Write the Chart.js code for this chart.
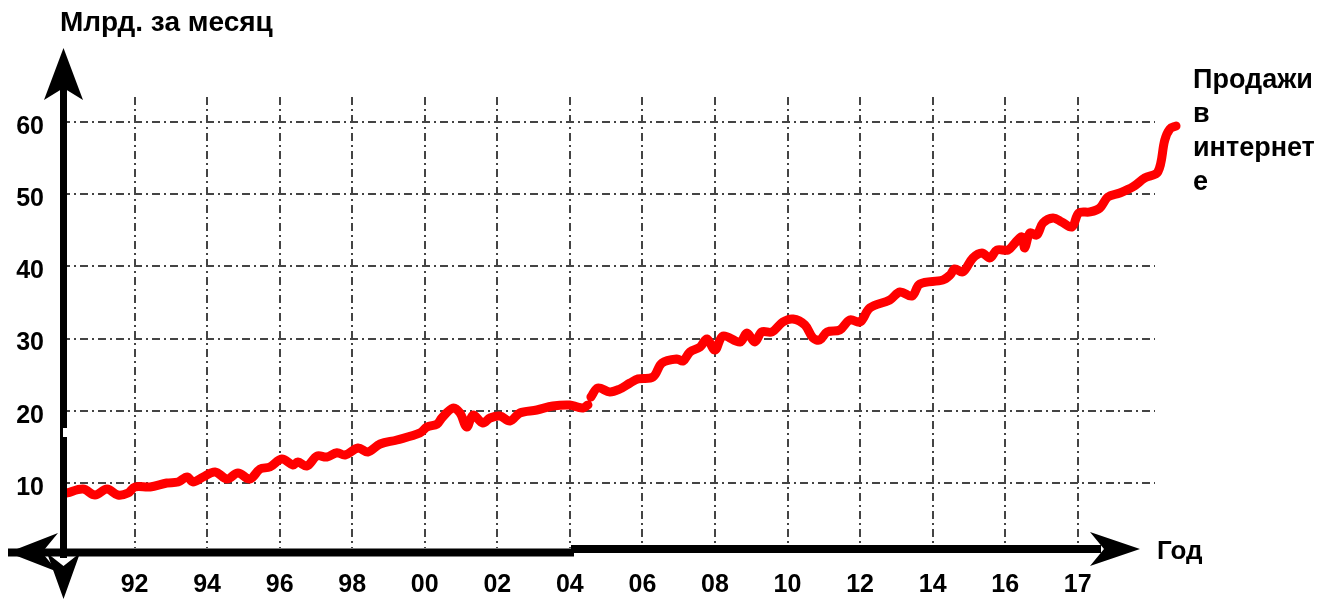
<!DOCTYPE html>
<html>
<head>
<meta charset="utf-8">
<title>Продажи в интернете</title>
<script src="https://cdn.jsdelivr.net/npm/chart.js@4.4.1/dist/chart.umd.min.js"></script>
<style>
  html, body { margin: 0; padding: 0; background: #fff; }
  canvas { display: block; }
</style>
</head>
<body>
<canvas id="chart" width="1322" height="599"></canvas>
<script>
// monthly online sales, bln
const years = [1990.14, 1990.58, 1990.91, 1991.24, 1991.54, 1991.82, 1992.01, 1992.43, 1992.89, 1993.20,
  1993.45, 1993.61, 1993.89, 1994.22, 1994.55, 1994.85, 1995.18, 1995.46, 1995.73, 1996.06,
  1996.37, 1996.50, 1996.75, 1997.03, 1997.30, 1997.58, 1997.80, 1998.16, 1998.43, 1998.77,
  1999.23, 1999.87, 2000.06, 2000.34, 2000.47, 2000.78, 2000.97, 2001.16, 2001.33, 2001.60,
  2001.80, 2002.07, 2002.35, 2002.62, 2003.09, 2003.53, 2004.00, 2004.20, 2004.36, 2004.50,
  2004.54, 2004.58, 2004.77, 2005.10, 2005.38, 2005.66, 2005.88, 2006.29, 2006.54, 2006.95,
  2007.12, 2007.31, 2007.59, 2007.78, 2008.00, 2008.22, 2008.69, 2008.88, 2009.10, 2009.29,
  2009.57, 2009.87, 2010.15, 2010.48, 2010.70, 2010.89, 2011.09, 2011.44, 2011.72, 2012.00,
  2012.27, 2012.82, 2013.10, 2013.43, 2013.65, 2014.28, 2014.48, 2014.61, 2014.83, 2015.11,
  2015.36, 2015.58, 2015.77, 2016.08, 2016.27, 2016.46, 2016.54, 2016.68, 2016.87, 2017.04,
  2017.32, 2017.56, 2017.84, 2018.03, 2018.34, 2018.61, 2018.83, 2019.16, 2019.52, 2019.85,
  2020.21, 2020.40, 2020.54, 2020.71];
const sales = [8.62, 9.17, 8.34, 9.17, 8.34, 8.62, 9.45, 9.45, 10.0, 10.14,
  10.83, 10.14, 10.83, 11.53, 10.56, 11.39, 10.56, 11.94, 12.22, 13.33,
  12.5, 12.91, 12.36, 13.74, 13.6, 14.2, 13.88, 14.85, 14.3, 15.4,
  15.96, 16.93, 17.76, 18.17, 19.0, 20.39, 19.7, 17.76, 19.42, 18.31,
  19.0, 19.28, 18.59, 19.7, 20.11, 20.67, 20.81, 20.53, 20.39, 20.81,
  null, 21.91, 23.16, 22.61, 23.02, 23.85, 24.41, 24.68, 26.62, 27.18,
  26.9, 28.15, 28.84, 29.95, 28.42, 30.36, 29.53, 30.78, 29.53, 30.92,
  30.92, 32.3, 32.72, 31.89, 30.09, 29.81, 30.92, 31.19, 32.6, 32.3,
  34.24, 35.35, 36.46, 35.9, 37.57, 38.12, 38.81, 39.64, 39.23, 41.17,
  41.86, 41.17, 42.27, 42.27, 43.24, 44.08, 42.55, 44.63, 44.35, 46.01,
  46.71, 46.15, 45.46, 47.4, 47.54, 48.09, 49.61, 50.17, 51.0, 52.25,
  53.08, 57.51, 59.03, 59.45];

const xTickYears = [1992, 1994, 1996, 1998, 2000, 2002, 2004, 2006, 2008, 2010, 2012, 2014, 2016, 2018];
const xTickLabels = ['92', '94', '96', '98', '00', '02', '04', '06', '08', '10', '12', '14', '16', '17'];
const yTicks = [10, 20, 30, 40, 50, 60];

const FONT = "'Liberation Sans', Arial, sans-serif";
const gridDash = [8, 4, 2, 4];

function arrow(ctx, pts) {
  ctx.beginPath();
  ctx.moveTo(pts[0][0], pts[0][1]);
  for (let i = 1; i < pts.length; i++) ctx.lineTo(pts[i][0], pts[i][1]);
  ctx.closePath();
  ctx.fill();
}

// hand-drawn looking axes with arrows + captions
const decorPlugin = {
  id: 'decor',
  afterDatasetsDraw(chart) {
    const ctx = chart.ctx;
    ctx.save();
    ctx.fillStyle = '#000';
    // y axis
    ctx.fillRect(60, 86, 7, 472);
    // x axis (has a little step near 04)
    ctx.fillRect(8, 548.5, 566, 8);
    ctx.fillRect(571, 545, 530, 8);
    arrow(ctx, [[63.5, 48], [44, 100], [63.5, 88], [83, 100]]);
    arrow(ctx, [[63.5, 599], [47, 553], [63.5, 566], [80, 553]]);
    arrow(ctx, [[8, 552.5], [58, 533], [42, 552.5], [58, 572]]);
    arrow(ctx, [[1140, 549], [1090, 532], [1104, 549], [1090, 566]]);
    ctx.fillStyle = '#fff';
    ctx.fillRect(63, 428, 4, 9);

    ctx.fillStyle = '#000';
    ctx.textAlign = 'left';
    ctx.textBaseline = 'alphabetic';
    ctx.font = 'bold 28px ' + FONT;
    ctx.fillText('Млрд. за месяц', 60, 31);
    ctx.font = 'bold 26px ' + FONT;
    ctx.fillText('Год', 1157, 559);
    ctx.font = 'bold 27px ' + FONT;
    ['Продажи', 'в', 'интернет', 'е'].forEach((t, i) => ctx.fillText(t, 1193, 88 + i * 34));
    ctx.restore();
  }
};

new Chart(document.getElementById('chart'), {
  type: 'line',
  data: {
    datasets: [{
      data: years.map((x, i) => ({ x: x, y: sales[i] })),
      borderColor: '#ff0000',
      borderWidth: 9,
      borderCapStyle: 'round',
      borderJoinStyle: 'round',
      pointRadius: 0,
      tension: 0.35,
      spanGaps: false,
      clip: false
    }]
  },
  options: {
    responsive: false,
    animation: false,
    devicePixelRatio: 1,
    layout: { padding: { left: 0, top: 97, right: 167, bottom: 0 } },
    plugins: { legend: { display: false }, tooltip: { enabled: false } },
    scales: {
      x: {
        type: 'linear',
        bounds: 'data',
        // range set here (not via min/max) so the tail past the grid is still drawn
        afterDataLimits: s => { s.min = 1990; s.max = 2020.13; },
        afterBuildTicks: s => { s.ticks = xTickYears.map(v => ({ value: v })); },
        afterFit: s => { s.height = 51; },
        grid: { color: '#444', lineWidth: 2, drawTicks: false },
        border: { display: false, dash: gridDash },
        ticks: {
          autoSkip: false,
          maxRotation: 0,
          padding: 22,
          color: '#000',
          font: { family: FONT, size: 25, weight: 'bold' },
          callback: (v, i) => xTickLabels[i]
        }
      },
      y: {
        type: 'linear',
        min: 1,
        max: 63.46,
        afterBuildTicks: s => { s.ticks = yTicks.map(v => ({ value: v })); },
        afterFit: s => { s.width = 62; },
        grid: { color: '#444', lineWidth: 2, drawTicks: false },
        border: { display: false, dash: gridDash },
        ticks: {
          padding: 18,
          labelOffset: 5,
          color: '#000',
          font: { family: FONT, size: 25, weight: 'bold' }
        }
      }
    }
  },
  plugins: [decorPlugin]
});
</script>
</body>
</html>
